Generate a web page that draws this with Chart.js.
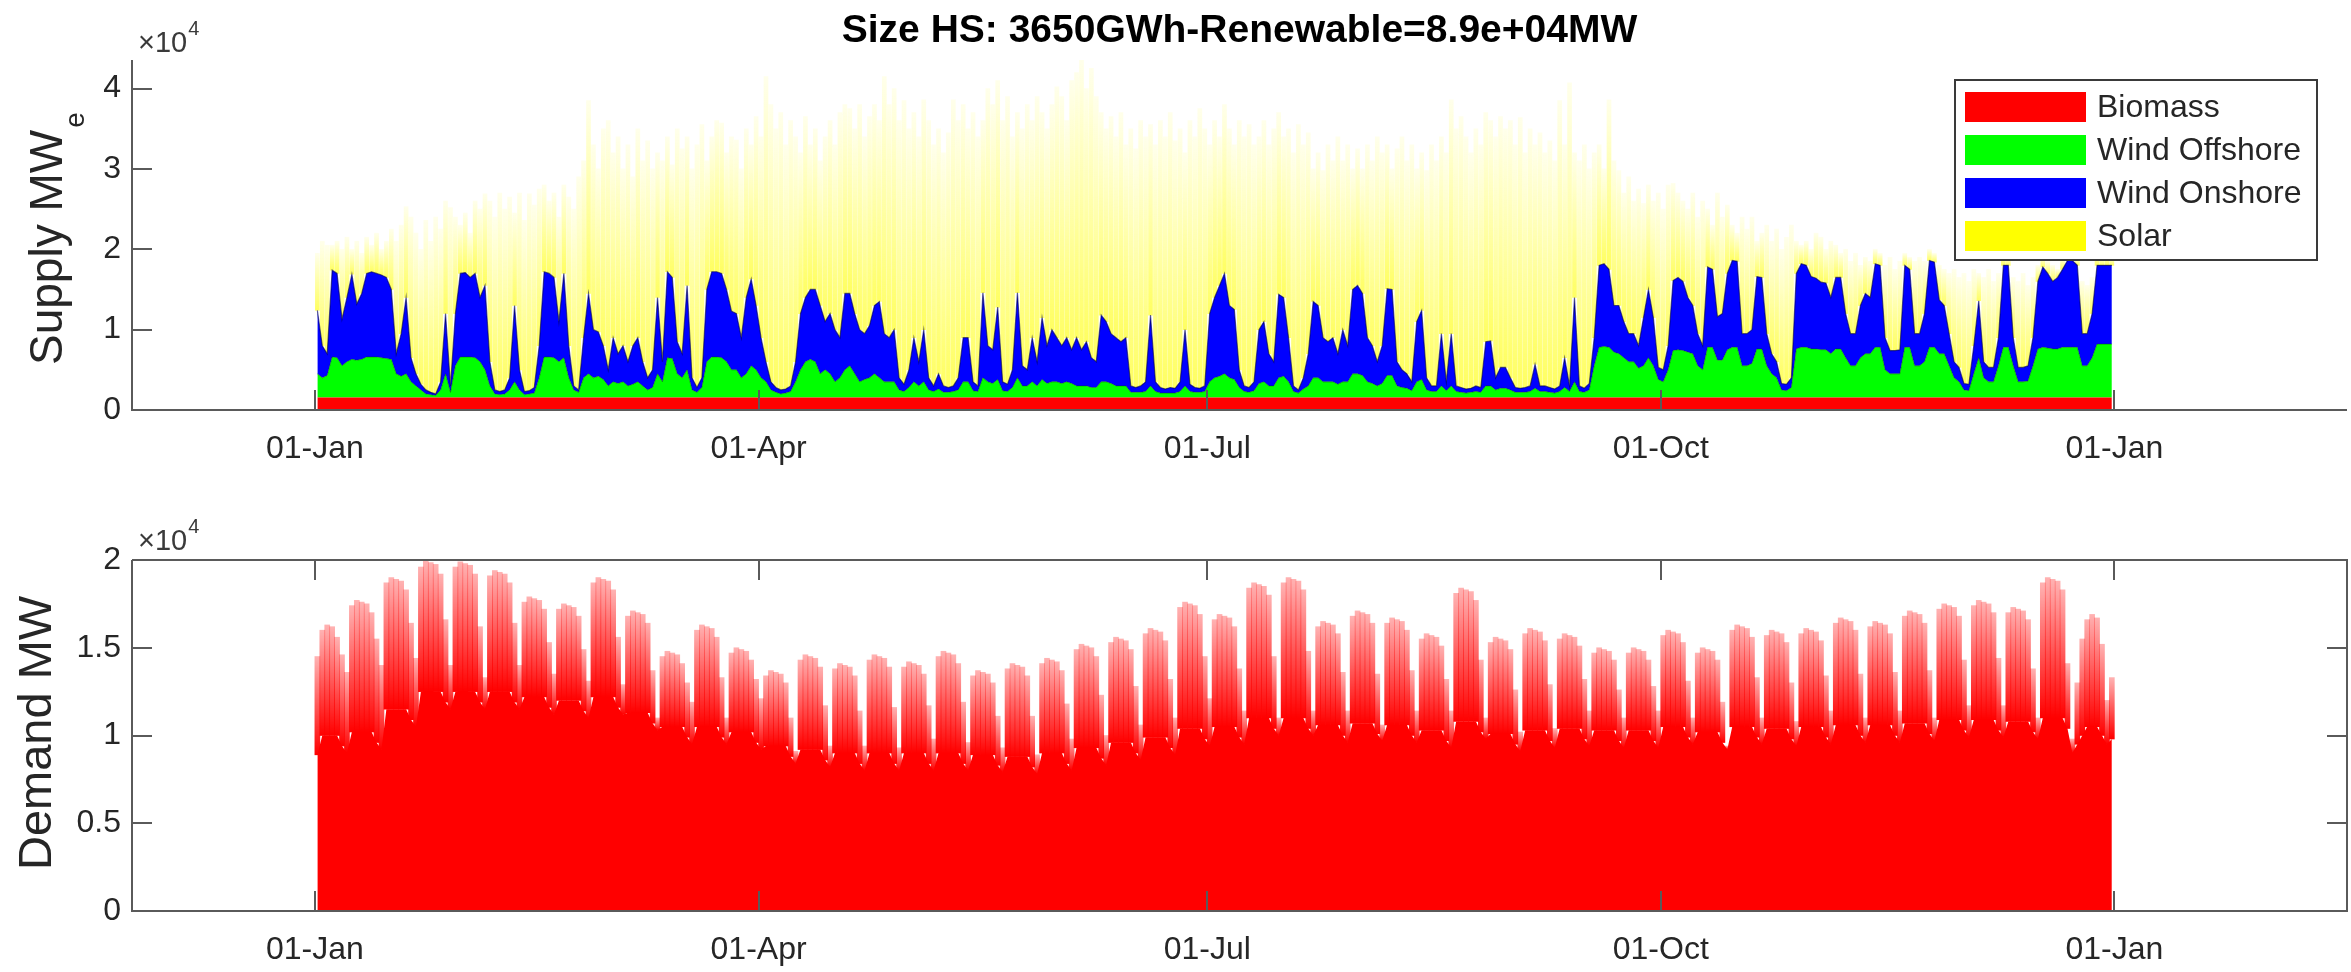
<!DOCTYPE html>
<html>
<head>
<meta charset="utf-8">
<script src="https://cdn.jsdelivr.net/npm/chart.js@4.4.1/dist/chart.umd.min.js"></script>
<style>
  html, body { margin: 0; padding: 0; background: #ffffff; }
  #wrap { position: relative; width: 2351px; height: 972px; overflow: hidden; }
  canvas { position: absolute; left: 0; }
  #supply { top: 0; }
  #demand { top: 486px; }
</style>
</head>
<body>
<div id="wrap">
  <canvas id="supply" width="2351" height="486" style="width:2351px;height:486px"></canvas>
  <canvas id="demand" width="2351" height="486" style="width:2351px;height:486px"></canvas>
</div>
<script>
// ---- axis ticks (x in days from 1 January) ----
const tickDays = [0, 90, 181, 273, 365];
const tickLabels = ['01-Jan', '01-Apr', '01-Jul', '01-Oct', '01-Jan'];
const supplyTicks = [0, 10000, 20000, 30000, 40000];
const demandTicks = [0, 5000, 10000, 15000, 20000];

// ---- supply series, MW (one value per day, rows are weeks) ----
const biomassMW = 1550;

const offshoreMW = [
  2950, 2450, 2750, 5050, 4950, 3950, 4450,
  4750, 4650, 4750, 5050, 5050, 5050, 4950,
  4850, 4750, 2950, 2650, 2950, 1950, 1450,
  950, 450, 350, 250, 950, 2950, 650,
  3950, 5050, 5050, 5050, 4950, 4450, 3450,
  1450, 450, 350, 450, 950, 1950, 950,
  350, 450, 550, 2450, 5050, 5050, 4950,
  4450, 4950, 2450, 950, 650, 2450, 2950,
  2450, 2650, 2250, 1450, 1950, 1750, 1950,
  1450, 1650, 1950, 1450, 950, 1250, 2950,
  1950, 4950, 4850, 2950, 2450, 3450, 950,
  650, 1250, 4450, 5050, 5050, 4950, 4450,
  3450, 3450, 2450, 2950, 3950, 3450, 2450,
  1950, 950, 650, 450, 550, 750, 1950,
  3450, 4450, 4750, 4450, 2950, 3450, 2950,
  1950, 2450, 3450, 3950, 2950, 1950, 2250,
  2450, 2950, 2450, 1950, 1950, 1950, 950,
  750, 1250, 1950, 1450, 1950, 950, 750,
  1050, 650, 650, 750, 950, 1950, 1950,
  850, 750, 2450, 1950, 1750, 2250, 850,
  750, 1250, 2450, 1450, 1450, 1950, 1450,
  2250, 1750, 1950, 1950, 1750, 1950, 1750,
  1450, 1450, 1450, 1250, 1250, 1950, 1950,
  1750, 1450, 1450, 1450, 650, 650, 650,
  750, 1450, 750, 550, 550, 550, 550,
  750, 1450, 750, 650, 650, 750, 1950,
  2450, 2650, 2950, 2450, 2250, 1250, 750,
  650, 850, 1750, 1950, 1450, 1450, 2450,
  2650, 1950, 750, 550, 1050, 1450, 2450,
  2450, 1950, 1950, 1950, 1650, 1950, 1950,
  2950, 2950, 2750, 1950, 1750, 1450, 1750,
  2750, 2750, 1450, 1250, 1150, 850, 1950,
  2250, 950, 750, 750, 1450, 850, 1450,
  750, 650, 550, 650, 750, 650, 1450,
  1450, 950, 1150, 1150, 950, 650, 650,
  650, 750, 1150, 750, 750, 650, 550,
  750, 1250, 750, 1950, 750, 650, 950,
  3950, 6250, 6350, 6250, 5650, 5450, 4950,
  4450, 4450, 3650, 3950, 4950, 3950, 2250,
  1950, 3450, 5850, 5950, 5850, 5650, 5450,
  3950, 3450, 6250, 6250, 4650, 4650, 5950,
  6250, 6250, 3950, 3950, 4250, 6050, 6050,
  3950, 2950, 2450, 950, 850, 1250, 6050,
  6250, 6250, 6050, 6050, 5950, 5950, 5450,
  6050, 6050, 4950, 3950, 3950, 4950, 5450,
  5450, 6250, 6250, 3450, 2950, 2950, 2950,
  6250, 6250, 3950, 3950, 4450, 6250, 6250,
  5450, 5450, 3950, 2450, 1950, 950, 850,
  2950, 4950, 2450, 1950, 1950, 3950, 6250,
  6250, 3950, 1950, 1950, 2050, 3950, 6050,
  6250, 6150, 6050, 6050, 6250, 6250, 6250,
  6250, 3950, 3950, 4950, 6650, 6650, 6650,
  6650
];

const onshoreMW = [
  7900, 4000, 2700, 10800, 10500, 5800, 8000,
  10600, 7000, 8200, 10400, 10600, 10400, 10300,
  10100, 8700, 2500, 5300, 9500, 3000, 1500,
  700, 500, 300, 200, 1000, 7500, 800,
  6500, 10400, 10500, 9900, 10500, 8000, 10500,
  3000, 500, 400, 500, 1500, 9500, 2500,
  400, 400, 700, 4000, 10600, 10400, 10000,
  5000, 10500, 4000, 500, 300, 5000, 10000,
  6000, 5500, 4200, 2000, 5500, 3700, 4500,
  3000, 4800, 5500, 3000, 1500, 2200, 9500,
  2500, 10700, 10100, 4000, 3000, 10500, 1500,
  600, 1200, 9000, 10600, 10600, 10500, 9000,
  7300, 7000, 5000, 9500, 10800, 8000, 5000,
  2500, 1000, 600, 500, 500, 700, 2500,
  7000, 8000, 8700, 9000, 8500, 6000, 7500,
  6500, 5000, 9500, 9000, 7500, 6500, 5700,
  6500, 8500, 9500, 6000, 5500, 6500, 1500,
  900, 2200, 5500, 3000, 6500, 1500, 700,
  1900, 800, 600, 700, 1500, 5500, 5500,
  1100, 700, 10600, 4500, 4200, 9000, 1100,
  900, 2200, 10600, 2500, 2000, 5500, 3000,
  7700, 4700, 6500, 5500, 4700, 5500, 4200,
  6000, 4500, 5500, 3700, 3200, 8300, 7500,
  6200, 6000, 5500, 6000, 800, 600, 800,
  1200, 8800, 1200, 700, 500, 700, 600,
  1200, 7000, 900, 600, 500, 700, 8500,
  10000, 11300, 12500, 9000, 8700, 2200, 700,
  600, 1100, 6700, 7500, 4000, 3000, 10400,
  9800, 5500, 700, 400, 1400, 4000, 9500,
  9000, 5500, 5000, 5500, 3800, 6500, 4500,
  10500, 11000, 10200, 5500, 4700, 3000, 4700,
  10800, 10700, 3000, 2200, 1800, 1100, 7500,
  8600, 1500, 700, 700, 6500, 1100, 6500,
  700, 600, 500, 500, 700, 600, 5500,
  5600, 1500, 2600, 2600, 1500, 600, 500,
  600, 700, 3000, 700, 700, 600, 500,
  700, 3700, 700, 10500, 700, 500, 800,
  3500, 10200, 10300, 9700, 5800, 6000, 4500,
  3500, 3500, 2800, 6000, 8500, 6000, 1500,
  1500, 3000, 8700, 9000, 8600, 6800, 6000,
  4000, 3000, 10000, 9700, 5400, 5800, 9500,
  10800, 10700, 4000, 4000, 4200, 9000, 8900,
  4000, 2500, 2000, 800, 800, 1200, 9400,
  10400, 10200, 9000, 8800, 8400, 8300, 7000,
  8900, 8900, 5500, 4000, 4000, 6500, 7500,
  7000, 10400, 10200, 4000, 2900, 2900, 3000,
  10200, 9700, 4000, 4000, 6000, 10800, 10600,
  6700, 6000, 4000, 2000, 1800, 800, 800,
  3500, 7100, 2000, 1800, 1800, 3500, 10200,
  10200, 3500, 1800, 1800, 1900, 3500, 8400,
  10000, 9300, 8400, 8900, 9700, 10800, 10800,
  10200, 4000, 4000, 5500, 9800, 9800, 9800,
  9800
];

// daily solar peak output, MW
const solarMW = [
  7100, 13000, 13500, 3100, 4000, 8700, 7500,
  3100, 7800, 5000, 4500, 3300, 5000, 3200,
  4500, 7500, 14000, 13500, 11300, 17500, 17500,
  16800, 21100, 18800, 22000, 19000, 14000, 22200,
  12000, 6000, 7400, 5500, 9000, 11000, 11400,
  20000, 21500, 24700, 22500, 22500, 11500, 22000,
  21300, 24500, 22700, 19500, 10800, 9000, 10500,
  13000, 11000, 18500, 22000, 26500, 22000, 24000,
  23000, 20300, 27000, 31000, 23000, 27000, 22000,
  27000, 21000, 26000, 25000, 29500, 25000, 18000,
  25000, 16800, 14000, 26500, 25500, 18500, 26000,
  30200, 31500, 16000, 16800, 18800, 18700, 17000,
  21700, 21600, 21000, 21000, 16700, 23500, 25000,
  35500, 34500, 32200, 34500, 30400, 33000, 28000,
  20000, 22500, 18000, 20000, 18000, 23000, 24000,
  23000, 28000, 23500, 23000, 23000, 28000, 24500,
  26000, 25000, 22500, 32000, 29000, 30000, 32000,
  35300, 30000, 28000, 28000, 28600, 32000, 30000,
  30500, 29000, 31700, 35600, 32000, 29000, 26000,
  33500, 31000, 21400, 32000, 30500, 28200, 32500,
  35800, 29000, 22400, 29500, 33000, 27000, 33000,
  25500, 27000, 28000, 31200, 31000, 27000, 33500,
  33000, 36000, 31500, 36000, 33000, 25200, 24000,
  27000, 25000, 28500, 24000, 32000, 29700, 33000,
  30500, 23700, 29500, 33200, 31400, 34200, 30800,
  31500, 22000, 32800, 31200, 34800, 32000, 21000,
  22000, 18500, 21000, 22000, 20500, 31000, 31000,
  32700, 29500, 24000, 25000, 26000, 29000, 22600,
  20000, 26000, 29000, 33000, 29000, 27500, 16500,
  19000, 20800, 24500, 22000, 27000, 21000, 25000,
  15000, 17000, 15500, 24000, 23000, 28000, 24000,
  17900, 15000, 26500, 29000, 26500, 29500, 19000,
  19600, 25800, 30000, 28000, 24500, 28500, 29100,
  32000, 33700, 31400, 29300, 32000, 30200, 28500,
  27400, 30000, 31200, 29700, 32000, 30200, 33700,
  29200, 32000, 27300, 31500, 29000, 30700, 28400,
  35500, 26500, 37700, 18000, 28000, 30300, 26700,
  23000, 15000, 11800, 21100, 18000, 16800, 16000,
  19500, 16500, 19500, 14200, 13000, 14500, 21700,
  20000, 20000, 12100, 10500, 10000, 11000, 14000,
  14500, 18000, 7200, 5500, 15400, 12000, 8500,
  4400, 3500, 14500, 13000, 14000, 4400, 5500,
  13500, 14000, 16500, 16700, 18300, 19000, 4000,
  2300, 3000, 3400, 5600, 5600, 4200, 7000,
  4000, 3000, 8000, 9000, 10000, 5000, 4500,
  4500, 1800, 1500, 9000, 11600, 10100, 11000,
  1500, 1500, 9000, 9500, 6500, 1400, 1100,
  4300, 4500, 7500, 11500, 11200, 13700, 12800,
  9500, 3400, 10500, 12200, 10700, 8000, 1500,
  1000, 7500, 10700, 11700, 10000, 7500, 2000,
  1200, 1500, 2000, 1000, 1500, 900, 1200,
  1000, 6500, 6000, 4500, 1500, 1000, 1500,
  1000
];

// ---- demand series, MW: daily peak and overnight minimum ----
const demandPeakMW = [
  14500, 16000, 16300, 16200, 15600, 14600, 13600,
  17400, 17700, 17600, 17500, 17000, 15500, 14000,
  18700, 19000, 18900, 18800, 18300, 16400, 14400,
  19600, 19950, 19850, 19750, 19200, 16600, 14000,
  19600, 19900, 19800, 19700, 19200, 16200, 13300,
  19100, 19400, 19300, 19200, 18700, 16400, 14000,
  17600, 17900, 17800, 17700, 17200, 15300, 13500,
  17200, 17500, 17400, 17300, 16800, 14900, 13100,
  18700, 19000, 18900, 18800, 18300, 15600, 12900,
  16800, 17100, 17000, 16900, 16400, 13700, 11000,
  14500, 14800, 14700, 14600, 14100, 13000, 11900,
  16000, 16300, 16200, 16100, 15600, 13300, 11000,
  14700, 15000, 14900, 14800, 14300, 13200, 12100,
  13400, 13700, 13600, 13500, 13000, 11000, 9100,
  14300, 14600, 14500, 14400, 13900, 11700, 9400,
  13800, 14100, 14000, 13900, 13400, 11400, 9400,
  14300, 14600, 14500, 14400, 13900, 11600, 9300,
  13900, 14200, 14100, 14000, 13500, 11700, 9800,
  14500, 14800, 14700, 14600, 14100, 11900, 9600,
  13400, 13700, 13600, 13500, 13000, 11100, 9300,
  13800, 14100, 14000, 13900, 13400, 11100, 8900,
  14100, 14400, 14300, 14200, 13700, 11800, 9800,
  14900, 15200, 15100, 15000, 14500, 12300, 10000,
  15300, 15600, 15500, 15400, 14900, 12800, 10600,
  15800, 16100, 16000, 15900, 15400, 13200, 11000,
  17300, 17600, 17500, 17400, 16900, 14500, 12100,
  16600, 16900, 16800, 16700, 16200, 13800, 11400,
  18400, 18700, 18600, 18500, 18000, 14500, 11000,
  18700, 19000, 18900, 18800, 18300, 14800, 11400,
  16200, 16500, 16400, 16300, 15800, 13600, 11400,
  16800, 17100, 17000, 16900, 16400, 13500, 10600,
  16400, 16700, 16600, 16500, 16000, 13700, 11400,
  15500, 15800, 15700, 15600, 15100, 13200, 11400,
  18100, 18400, 18300, 18200, 17700, 14300, 11000,
  15300, 15600, 15500, 15400, 14900, 12600, 10200,
  15800, 16100, 16000, 15900, 15400, 12900, 10400,
  15500, 15800, 15700, 15600, 15100, 13200, 11400,
  14700, 15000, 14900, 14800, 14300, 12600, 11000,
  14700, 15000, 14900, 14800, 14300, 12800, 11400,
  15700, 16000, 15900, 15800, 15300, 13100, 11000,
  14700, 15000, 14900, 14800, 14300, 11900, 9400,
  16000, 16300, 16200, 16100, 15600, 13300, 11000,
  15700, 16000, 15900, 15800, 15300, 13000, 10800,
  15800, 16100, 16000, 15900, 15400, 13400, 11400,
  16400, 16700, 16600, 16500, 16000, 13500, 11000,
  16200, 16500, 16400, 16300, 15800, 13600, 11400,
  16800, 17100, 17000, 16900, 16400, 13700, 11000,
  17200, 17500, 17400, 17300, 16800, 14300, 11700,
  17400, 17700, 17600, 17500, 17000, 14400, 11700,
  17000, 17300, 17200, 17100, 16600, 13800, 11000,
  18700, 19000, 18900, 18800, 18300, 14100, 9800,
  13000, 15500, 16600, 16900, 16700, 15200, 12000,
  13300
];

const demandLowMW = [
  8900, 10000, 10000, 10000, 10000, 9400, 9000,
  10200, 10200, 10200, 10200, 10200, 9600, 9200,
  11500, 11500, 11500, 11500, 11500, 10900, 10500,
  12500, 12500, 12500, 12500, 12500, 11900, 11500,
  12500, 12500, 12500, 12500, 12500, 11900, 11500,
  12500, 12500, 12500, 12500, 12500, 11900, 11500,
  12200, 12200, 12200, 12200, 12200, 11600, 11200,
  12000, 12000, 12000, 12000, 12000, 11400, 11000,
  12200, 12200, 12200, 12200, 12200, 11600, 11200,
  11300, 11300, 11300, 11300, 11300, 10700, 10300,
  10500, 10500, 10500, 10500, 10500, 9900, 9500,
  10500, 10500, 10500, 10500, 10500, 9900, 9500,
  10200, 10200, 10200, 10200, 10200, 9600, 9200,
  9400, 9400, 9400, 9400, 9400, 8800, 8400,
  9200, 9200, 9200, 9200, 9200, 8600, 8200,
  9000, 9000, 9000, 9000, 9000, 8400, 8000,
  9000, 9000, 9000, 9000, 9000, 8400, 8000,
  9000, 9000, 9000, 9000, 9000, 8400, 8000,
  9000, 9000, 9000, 9000, 9000, 8400, 8000,
  8900, 8900, 8900, 8900, 8900, 8300, 7900,
  8800, 8800, 8800, 8800, 8800, 8200, 7800,
  9000, 9000, 9000, 9000, 9000, 8400, 8000,
  9300, 9300, 9300, 9300, 9300, 8700, 8300,
  9600, 9600, 9600, 9600, 9600, 9000, 8600,
  9900, 9900, 9900, 9900, 9900, 9300, 8900,
  10400, 10400, 10400, 10400, 10400, 9800, 9400,
  10500, 10500, 10500, 10500, 10500, 9900, 9500,
  11000, 11000, 11000, 11000, 11000, 10400, 10000,
  11000, 11000, 11000, 11000, 11000, 10400, 10000,
  10600, 10600, 10600, 10600, 10600, 10000, 9600,
  10700, 10700, 10700, 10700, 10700, 10100, 9700,
  10600, 10600, 10600, 10600, 10600, 10000, 9600,
  10300, 10300, 10300, 10300, 10300, 9700, 9300,
  10800, 10800, 10800, 10800, 10800, 10200, 9800,
  10100, 10100, 10100, 10100, 10100, 9500, 9100,
  10300, 10300, 10300, 10300, 10300, 9700, 9300,
  10400, 10400, 10400, 10400, 10400, 9800, 9400,
  10300, 10300, 10300, 10300, 10300, 9700, 9300,
  10300, 10300, 10300, 10300, 10300, 9700, 9300,
  10500, 10500, 10500, 10500, 10500, 9900, 9500,
  10200, 10200, 10200, 10200, 10200, 9600, 9200,
  10500, 10500, 10500, 10500, 10500, 9900, 9500,
  10400, 10400, 10400, 10400, 10400, 9800, 9400,
  10500, 10500, 10500, 10500, 10500, 9900, 9500,
  10600, 10600, 10600, 10600, 10600, 10000, 9600,
  10600, 10600, 10600, 10600, 10600, 10000, 9600,
  10700, 10700, 10700, 10700, 10700, 10100, 9700,
  10900, 10900, 10900, 10900, 10900, 10300, 9900,
  10900, 10900, 10900, 10900, 10900, 10300, 9900,
  10800, 10800, 10800, 10800, 10800, 10200, 9800,
  11000, 11000, 11000, 11000, 11000, 10400, 9000,
  9500, 10000, 10500, 10500, 10500, 10000, 9500,
  9800
];

// ---- styling ----
const FONT = '"Liberation Sans", Arial, Helvetica, sans-serif';
const INK = '#262626';
const AXIS = '#5a5a5a';
const TICK_LEN = 20;
const TICK_FONT = 32;

Chart.defaults.font.family = FONT;
Chart.defaults.color = INK;

// position of each daily value on the time axis (middle of the day)
const dayX = offshoreMW.map((_, d) => d + 0.5);

// stacked supply levels
const offshoreTop = offshoreMW.map(v => biomassMW + v);
const onshoreTop = onshoreMW.map((v, d) => offshoreTop[d] + v);

// vertical fade for the thin daily spikes: strong at the base, pale at the tip
function verticalFade(rgb, aBase, aTip) {
  return (ctx) => {
    const solid = `rgba(${rgb},${aBase})`;
    if (ctx.type !== 'data' || !ctx.raw) return solid;
    const ys = ctx.chart.scales.y;
    const y0 = ys.getPixelForValue(ctx.raw.y[0]);
    const y1 = ys.getPixelForValue(ctx.raw.y[1]);
    if (!isFinite(y0) || !isFinite(y1) || Math.abs(y1 - y0) < 1) return solid;
    const g = ctx.chart.ctx.createLinearGradient(0, y0, 0, y1);
    g.addColorStop(0, solid);
    g.addColorStop(1, `rgba(${rgb},${aTip})`);
    return g;
  };
}

function timeAxis() {
  return {
    type: 'linear', min: -37.1, max: 412.2, offset: false,
    grid: { display: false, drawTicks: false }, border: { display: false },
    afterBuildTicks: s => { s.ticks = tickDays.map(v => ({ value: v })); },
    afterFit: s => { s.height = 60; },
    ticks: {
      autoSkip: false, maxRotation: 0, minRotation: 0, padding: 20,
      color: INK, font: { size: TICK_FONT },
      callback: v => tickLabels[tickDays.indexOf(v)]
    }
  };
}

function valueAxis(max, ticks) {
  return {
    type: 'linear', min: 0, max: max,
    grid: { display: false, drawTicks: false }, border: { display: false },
    afterBuildTicks: s => { s.ticks = ticks.map(v => ({ value: v })); },
    afterFit: s => { s.width = 132; },
    ticks: { padding: 11, color: INK, font: { size: TICK_FONT }, callback: v => String(v / 10000) }
  };
}

// axis lines and inward tick marks; "boxed" closes the frame and mirrors the ticks
function drawFrame(chart, boxed) {
  const { ctx, chartArea: a, scales: { x, y } } = chart;
  ctx.save();
  ctx.strokeStyle = AXIS;
  ctx.lineWidth = 2;
  ctx.beginPath();
  tickDays.forEach(v => {
    const px = Math.round(x.getPixelForValue(v));
    ctx.moveTo(px, a.bottom); ctx.lineTo(px, a.bottom - TICK_LEN);
    if (boxed) { ctx.moveTo(px, a.top); ctx.lineTo(px, a.top + TICK_LEN); }
  });
  y.ticks.forEach(t => {
    const py = Math.round(y.getPixelForValue(t.value));
    ctx.moveTo(a.left, py); ctx.lineTo(a.left + TICK_LEN, py);
    if (boxed) { ctx.moveTo(a.right, py); ctx.lineTo(a.right - TICK_LEN, py); }
  });
  ctx.moveTo(a.left, a.top); ctx.lineTo(a.left, a.bottom); ctx.lineTo(a.right, a.bottom);
  if (boxed) { ctx.lineTo(a.right, a.top); ctx.lineTo(a.left, a.top); }
  ctx.stroke();
  ctx.restore();
}

// "x10^4" multiplier placed just right of the axis top
function drawExponent(chart, baseline) {
  const ctx = chart.ctx;
  const x = chart.chartArea.left + 6;
  ctx.save();
  ctx.fillStyle = '#3a3a3a';
  ctx.textBaseline = 'alphabetic';
  ctx.textAlign = 'left';
  ctx.font = `29px ${FONT}`;
  ctx.fillText('\u00d710', x, baseline);
  const w = ctx.measureText('\u00d710').width;
  ctx.font = `20px ${FONT}`;
  ctx.fillText('4', x + w + 1, baseline - 17);
  ctx.restore();
}

function drawYLabel(ctx, text, sub, baseX, startY, size) {
  ctx.save();
  ctx.translate(baseX, startY);
  ctx.rotate(-Math.PI / 2);
  ctx.fillStyle = INK;
  ctx.textBaseline = 'alphabetic';
  ctx.textAlign = 'left';
  ctx.font = `${size}px ${FONT}`;
  ctx.fillText(text, 0, 0);
  if (sub) {
    const w = ctx.measureText(text).width;
    ctx.font = `28px ${FONT}`;
    ctx.fillText(sub, w + 2, 22);
  }
  ctx.restore();
}

const supplyDecor = {
  id: 'supplyDecor',
  afterDraw(chart) {
    const ctx = chart.ctx;
    drawFrame(chart, false);
    // title
    ctx.save();
    ctx.fillStyle = '#000000';
    ctx.font = `bold 39px ${FONT}`;
    ctx.textAlign = 'center';
    ctx.textBaseline = 'alphabetic';
    ctx.fillText('Size HS: 3650GWh-Renewable=8.9e+04MW', (chart.chartArea.left + chart.chartArea.right) / 2, 42);
    ctx.restore();
    drawExponent(chart, 52);
    drawYLabel(ctx, 'Supply MW', 'e', 62, 365, 46);
    // legend
    const box = { x: 1955, y: 80, w: 362, h: 180 };
    ctx.save();
    ctx.fillStyle = '#ffffff';
    ctx.fillRect(box.x, box.y, box.w, box.h);
    ctx.strokeStyle = '#3a3a3a';
    ctx.lineWidth = 2;
    ctx.strokeRect(box.x, box.y, box.w, box.h);
    ctx.font = `32px ${FONT}`;
    ctx.textBaseline = 'middle';
    ctx.textAlign = 'left';
    chart.data.datasets.forEach((ds, i) => {
      const cy = 107 + i * 43;
      ctx.fillStyle = ds.legendColor;
      ctx.fillRect(1965, cy - 15, 121, 30);
      ctx.fillStyle = INK;
      ctx.fillText(ds.label, 2097, cy + 1);
    });
    ctx.restore();
  }
};

const demandDecor = {
  id: 'demandDecor',
  afterDraw(chart) {
    drawFrame(chart, true);
    drawExponent(chart, 64);
    drawYLabel(chart.ctx, 'Demand MW', null, 51, 384, 47);
  }
};

const common = {
  responsive: false,
  animation: false,
  devicePixelRatio: 1,
  events: [],
  plugins: { legend: { display: false }, tooltip: { enabled: false } }
};

new Chart(document.getElementById('supply'), {
  type: 'line',
  data: {
    datasets: [
      {
        type: 'line', label: 'Biomass', legendColor: '#ff0000',
        data: dayX.map(x => ({ x, y: biomassMW })),
        backgroundColor: '#ff0000', borderWidth: 0, pointRadius: 0, fill: 'origin'
      },
      {
        type: 'line', label: 'Wind Offshore', legendColor: '#00ff00',
        data: dayX.map((x, d) => ({ x, y: offshoreTop[d] })),
        backgroundColor: '#00ff00', borderColor: 'rgba(0,70,0,0.45)', borderWidth: 1,
        pointRadius: 0, fill: { value: biomassMW }
      },
      {
        type: 'line', label: 'Wind Onshore', legendColor: '#0000ff',
        data: dayX.map((x, d) => ({ x, y: onshoreTop[d] })),
        backgroundColor: '#0000ff', borderColor: 'rgba(0,0,70,0.6)', borderWidth: 1.2,
        pointRadius: 0, fill: '-1'
      },
      {
        type: 'bar', label: 'Solar', legendColor: '#ffff00',
        data: dayX.map((x, d) => ({ x, y: [onshoreTop[d], onshoreTop[d] + solarMW[d]] })),
        backgroundColor: verticalFade('255,255,0', 0.62, 0.08), borderWidth: 0, barThickness: 4
      }
    ]
  },
  options: Object.assign({}, common, {
    layout: { padding: { left: 0, right: 4, top: 60, bottom: 16 } },
    scales: { x: timeAxis(), y: valueAxis(43550, supplyTicks) }
  }),
  plugins: [supplyDecor]
});

new Chart(document.getElementById('demand'), {
  type: 'line',
  data: {
    datasets: [
      {
        type: 'line', label: 'Demand',
        data: dayX.map((x, d) => ({ x, y: demandLowMW[d] })),
        backgroundColor: '#ff0000', borderWidth: 0, pointRadius: 0, fill: 'origin'
      },
      {
        type: 'bar', label: 'Demand daily peak',
        data: dayX.map((x, d) => ({ x, y: [demandLowMW[d], demandPeakMW[d]] })),
        backgroundColor: verticalFade('255,0,0', 1, 0.3), borderWidth: 0, barThickness: 5
      }
    ]
  },
  options: Object.assign({}, common, {
    layout: { padding: { left: 0, right: 4, top: 74, bottom: 1 } },
    scales: { x: timeAxis(), y: valueAxis(20000, demandTicks) }
  }),
  plugins: [demandDecor]
});
</script>
</body>
</html>
